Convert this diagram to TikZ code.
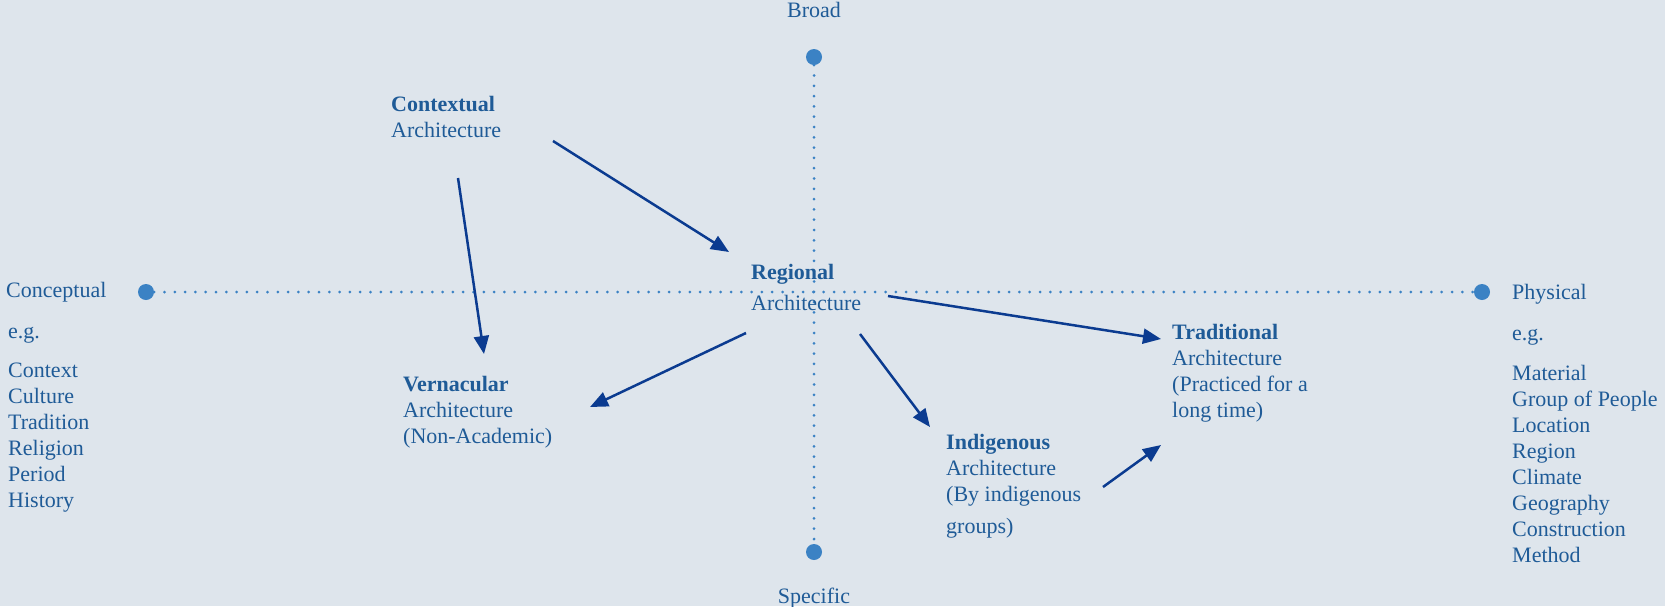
\documentclass[tikz,border=0pt]{standalone}
\usepackage{fontspec}
\setmainfont{Liberation Serif}
\usepackage{tikz}
\usetikzlibrary{arrows.meta}
\usetikzlibrary{positioning}
\definecolor{bgcol}{HTML}{DEE5EC}
\definecolor{txtcol}{HTML}{1F5B97}
\definecolor{dotcol}{HTML}{3B82C4}
\definecolor{arrcol}{HTML}{0B3B90}

\begin{document}
\begin{tikzpicture}[x=1pt,y=-1pt,
  lbl/.style={text=txtcol,font=\fontsize{22}{26}\selectfont,align=left,inner sep=0pt,anchor=base west},
  axdot/.style={circle,fill=dotcol,inner sep=0pt,minimum size=16pt},
  axline/.style={dotcol,line width=3pt,line cap=round,dash pattern=on 0pt off 10.3pt},
  arr/.style={arrcol,line width=2.5pt,-{Triangle[length=18pt,width=15pt]}}]
\fill[bgcol] (0,0) rectangle (1665,606);
\useasboundingbox (0,0) rectangle (1665,606);

\node[axdot] (broadDot) at (814,57) {};
\node[axdot] (specDot) at (814,552) {};
\node[axdot] (concDot) at (146,292) {};
\node[axdot] (physDot) at (1482,292) {};
\draw[axline] (broadDot) -- (specDot);
\draw[axline] (concDot) -- (physDot);

% labels sit on the baseline of their last line
\node[lbl,anchor=base] (broad) at (814,17) {Broad};
\node[lbl,anchor=base] (spec) at (814,603) {Specific};
\node[lbl] (conc) at (6,297) {Conceptual};
\node[lbl] (concEg) at (8,338) {e.g.};
\node[lbl] (concList) at (8,507) {Context\\Culture\\Tradition\\Religion\\Period\\History};
\node[lbl] (phys) at (1512,299) {Physical};
\node[lbl] (physEg) at (1512,340) {e.g.};
\node[lbl] (physList) at (1512,562) {Material\\Group of People\\Location\\Region\\Climate\\Geography\\Construction\\Method};

\node[lbl] (ctx) at (391,137) {\textbf{Contextual}\\Architecture};
\node[lbl] (reg) at (751,310) {\textbf{Regional}\\[5pt]Architecture};
\node[lbl] (ver) at (403,443) {\textbf{Vernacular}\\Architecture\\(Non-Academic)};
\node[lbl] (ind) at (946,533) {\textbf{Indigenous}\\Architecture\\(By indigenous\\[6pt]groups)};
\node[lbl] (tra) at (1172,417) {\textbf{Traditional}\\Architecture\\(Practiced for a\\long time)};

\draw[arr] ([shift={(162,4)}]ctx.base west) -- ([shift={(-22,-58)}]reg.base west);
\draw[arr] ([shift={(67,41)}]ctx.base west) -- ([shift={(81,-89)}]ver.base west);
\draw[arr] ([shift={(-5,23)}]reg.base west) -- ([shift={(187,-36)}]ver.base west);
\draw[arr] ([shift={(109,24)}]reg.base west) -- ([shift={(-16,-106)}]ind.base west);
\draw[arr] ([shift={(137,-14)}]reg.base west) -- ([shift={(-11,-78)}]tra.base west);
\draw[arr] ([shift={(157,-46)}]ind.base west) -- ([shift={(-11,28)}]tra.base west);
\end{tikzpicture}
\end{document}
